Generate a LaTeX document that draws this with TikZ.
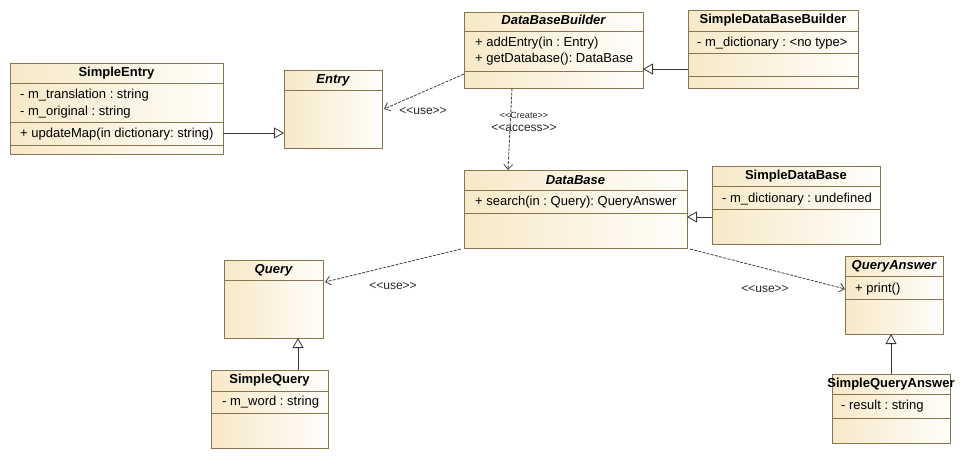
\documentclass[tikz,border=0pt]{standalone}
\usepackage{fontspec}
\setmainfont{Liberation Sans}
\usetikzlibrary{arrows.meta,shadows}

\definecolor{boxleft}{RGB}{247,233,200}
\definecolor{boxright}{RGB}{255,254,250}
\definecolor{boxline}{RGB}{138,118,78}
\definecolor{linkline}{RGB}{60,56,48}

\tikzset{
  classbox/.style={draw=boxline, line width=0.9pt, left color=boxleft, right color=boxright,
    anchor=north west, inner sep=0pt, outer sep=0pt,
    drop shadow={shadow xshift=1.2pt, shadow yshift=-1.2pt, fill=black!30, opacity=0.6}},
  compline/.style={draw=boxline, line width=0.9pt},
  title/.style={font=\fontsize{13}{15}\selectfont\bfseries, inner sep=0pt},
  abstitle/.style={font=\fontsize{13}{15}\selectfont\bfseries\itshape, inner sep=0pt},
  member/.style={font=\fontsize{13}{15}\selectfont, anchor=west, inner sep=0pt},
  linklabel/.style={font=\fontsize{12}{14}\selectfont, inner sep=0pt, text=black!85},
  smalllabel/.style={font=\fontsize{9}{11}\selectfont, inner sep=0pt, text=black!85},
  generalization/.style={draw=linkline, line width=0.8pt,
    -{Triangle[open, length=10pt, width=11pt, fill=white]}},
  dependency/.style={draw=black!72, line width=0.85pt, dash pattern=on 3pt off 1.3pt,
    -{Straight Barb[length=5pt, width=9pt]}},
}

% compartment separator across a class box at a given height
\newcommand\compsep[2]{\draw[compline] (#1.west |- 0,#2) -- (#1.east |- 0,#2);}
% class box: name, left, top, width, height
\newcommand\umlbox[5]{\node[classbox, minimum width=#4pt, minimum height=#5pt] (#1) at (#2,#3) {};}
\newcommand\st[1]{<\kern0pt<#1>\kern0pt>}

\begin{document}
\frenchspacing
\begin{tikzpicture}[x=1pt, y=-1pt]
\useasboundingbox (0,0) rectangle (962,464);

% ---- class boxes ----
\umlbox{se}{10}{63}{213}{91}
\compsep{se}{83}\compsep{se}{122}\compsep{se}{145}
\node[title] (se-t) at (se.north |- 0,73) {SimpleEntry};
\node[member] (se-a1) at (20,95) {- m\_translation : string};
\node[member] (se-a2) at (20,112) {- m\_original : string};
\node[member] (se-o1) at (20,134) {+ updateMap(in dictionary: string)};

\umlbox{entry}{284}{70}{98}{78}
\compsep{entry}{90}
\node[abstitle] (entry-t) at (entry.north |- 0,80) {Entry};

\umlbox{dbb}{464}{12}{179}{76}
\compsep{dbb}{31}\compsep{dbb}{71}
\node[abstitle] (dbb-t) at (dbb.north |- 0,20) {DataBaseBuilder};
\node[member] (dbb-o1) at (475,43) {+ addEntry(in : Entry)};
\node[member] (dbb-o2) at (475,59) {+ getDatabase(): DataBase};

\umlbox{sdbb}{688}{10}{170}{78}
\compsep{sdbb}{31}\compsep{sdbb}{53}\compsep{sdbb}{76}
\node[title] (sdbb-t) at (sdbb.north |- 0,20) {SimpleDataBaseBuilder};
\node[member] (sdbb-a1) at (697,43) {- m\_dictionary : <no type>};

\umlbox{db}{464}{170}{223}{78}
\compsep{db}{190}\compsep{db}{213}
\node[abstitle] (db-t) at (db.north |- 0,180) {DataBase};
\node[member] (db-o1) at (475,202) {+ search(in : Query): QueryAnswer};

\umlbox{sdb}{712}{166}{168}{78}
\compsep{sdb}{186}\compsep{sdb}{209}
\node[title] (sdb-t) at (sdb.north |- 0,176) {SimpleDataBase};
\node[member] (sdb-a1) at (722,199) {- m\_dictionary : undefined};

\umlbox{query}{224}{260}{99}{78}
\compsep{query}{280}
\node[abstitle] (query-t) at (query.north |- 0,270) {Query};

\umlbox{sq}{211}{370}{117}{78}
\compsep{sq}{391}\compsep{sq}{413}
\node[title] (sq-t) at (sq.north |- 0,380) {SimpleQuery};
\node[member] (sq-a1) at (222,402) {- m\_word : string};

\umlbox{qa}{845}{256}{98}{78}
\compsep{qa}{276}\compsep{qa}{299}
\node[abstitle] (qa-t) at (qa.north |- 0,266) {QueryAnswer};
\node[member] (qa-o1) at (855,289) {+ print()};

\umlbox{sqa}{832}{374}{118}{69}
\compsep{sqa}{394}\compsep{sqa}{418}
\node[title] (sqa-t) at (sqa.north |- 0,384) {SimpleQueryAnswer};
\node[member] (sqa-a1) at (841,406) {- result : string};

% ---- generalizations ----
\coordinate (g1) at ([yshift=-24.5pt]se.east);
\draw[generalization] (g1) -- (g1 -| entry.west);
\coordinate (g2) at ([yshift=-20pt]sdbb.west);
\draw[generalization] (g2) -- (g2 -| dbb.east);
\coordinate (g3) at ([yshift=-12pt]sdb.west);
\draw[generalization] (g3) -- (g3 -| db.east);
\coordinate (g4) at ([xshift=28.5pt]sq.north);
\draw[generalization] (g4) -- (g4 |- query.south);
\coordinate (g5) at (sqa.north);
\draw[generalization] (g5) -- (g5 |- qa.south);

% ---- dependencies ----
\draw[dependency] ([yshift=14pt]dbb.south west) -- ([xshift=2pt]entry.east);
\node[linklabel] (l-use1) at (423,111) {\st{use}};

\draw[dependency] ([xshift=-41.5pt]dbb.south) -- ([xshift=-67.5pt]db.north);
\node[smalllabel] (l-create) at (524,115) {\st{Create}};
\node[linklabel] (l-access) at (524,128) {\st{access}};

\draw[dependency] ([xshift=-3pt,yshift=-1pt]db.south west) -- ([xshift=2pt,yshift=17pt]query.east);
\node[linklabel] (l-use2) at (393,286) {\st{use}};

\draw[dependency] ([xshift=3pt,yshift=-1pt]db.south east) -- ([yshift=6pt]qa.west);
\node[linklabel] (l-use3) at (765,289) {\st{use}};
\end{tikzpicture}
\end{document}
